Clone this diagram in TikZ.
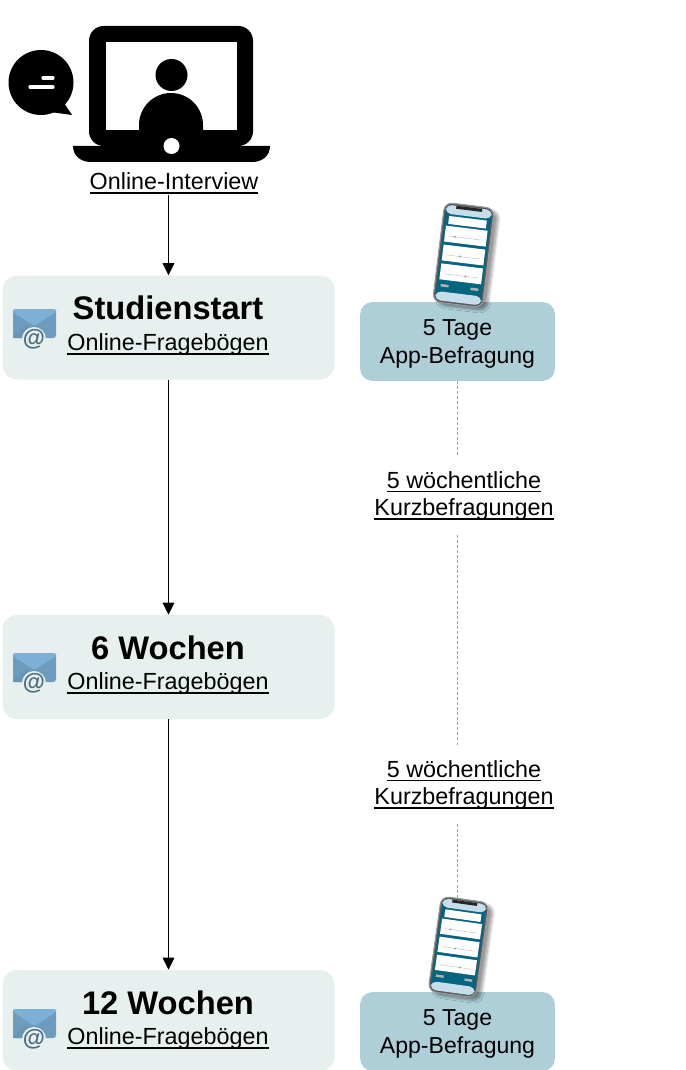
\documentclass[tikz,border=0pt]{standalone}
\usepackage{fontspec}
\setmainfont{Liberation Sans}
\usetikzlibrary{arrows.meta,positioning,shadows.blur}

\newcommand{\ultext}[1]{\setbox0\hbox{#1}\dp0=0pt \vtop{\box0\kern2pt\hrule height 1.3pt}}
\newcommand{\appstrut}{\rule{0pt}{15.5pt}}

\definecolor{paleBox}{HTML}{E7F0EF}
\definecolor{appBox}{HTML}{AFCFD8}
\definecolor{mailTop}{HTML}{7DB0D6}
\definecolor{mailLow}{HTML}{6E9CBE}
\definecolor{mailAt}{HTML}{4A6A80}
\definecolor{phoneTeal}{HTML}{05647F}
\definecolor{phoneLight}{HTML}{C6DEE9}
\definecolor{dashLine}{HTML}{8FA3AE}

\tikzset{
    phasebox/.style={fill=paleBox, rounded corners=11pt, minimum width=249pt, minimum height=78pt, inner sep=0pt},
    appbox/.style={fill=appBox, rounded corners=9pt, minimum width=146pt, minimum height=59pt, inner sep=0pt, align=center, font=\fontsize{17.3}{20.6}\selectfont},
    titletext/.style={font=\fontsize{24.5}{28}\selectfont\bfseries, inner sep=0pt},
    subtext/.style={font=\fontsize{17.5}{20}\selectfont, inner sep=0pt},
    weeklabel/.style={align=center, font=\fontsize{17.5}{20.6}\selectfont, inner sep=0pt, minimum height=58.5pt},
    flow/.style={-{Triangle[length=9pt,width=8.8pt]}, line width=0.6pt},
    weekline/.style={dashLine, dashed, dash pattern=on 2.2pt off 1.6pt, line width=0.5pt}
}

% tilted phone: x, y, angle, size
\newcommand{\phoneicon}[4]{
    \begin{scope}[shift={(#1,#2)}, rotate=#3, scale=#4]
        \fill[black!60, rounded corners=6pt, blur shadow={shadow xshift=3.5pt, shadow yshift=-2.5pt, shadow blur steps=8, shadow opacity=40}] (-25,-50) rectangle (25,50);
        \draw[black!40, fill=black!65, line width=0.8pt, rounded corners=6pt] (-25,-50) rectangle (25,50);
        \fill[phoneTeal, rounded corners=4pt] (-23,-48) rectangle (23,48);
        \fill[phoneLight, rounded corners=4pt] (-23,-48) rectangle (23,-39);
        \fill[black!85] (-13,-48) rectangle (13,-45);
        \fill[white] (-19,-37) rectangle (19,-29);
        \foreach \ytop in {-27,-8,11} {
            \fill[white] (-21,\ytop) rectangle (21,\ytop+16);
            \draw[black!30, line width=0.25pt] (-17,\ytop+10) -- (17,\ytop+10);
            \fill[black!35] (\ytop*0.4,\ytop+10) circle (1.2);
        }
        \fill[black!30] (-19,31.5) rectangle (-11,34);
        \fill[black!30] (11,31.5) rectangle (19,34);
        \fill[phoneLight, rounded corners=4pt] (-23,39) rectangle (23,48);
    \end{scope}
}

% mail icon: x, y of the upper left corner
\newcommand{\mailicon}[2]{
    \begin{scope}[shift={(#1,#2)}]
        \fill[mailLow, rounded corners=2pt] (0,0) rectangle (43,29);
        \fill[mailTop, rounded corners=2pt] (0,0) -- (43,0) -- (43,3) -- (21.5,17) -- (0,3) -- cycle;
        \fill[mailTop!85!black] (0,29) -- (0,27) -- (13,15) -- (21,23) -- (14,29) -- cycle;
        \fill[paleBox] (21,30) circle (12);
        \node[text=mailAt, inner sep=0pt, font=\fontsize{17}{17}\selectfont\bfseries] (at#1#2) at (21,30) {@};
    \end{scope}
}

\begin{document}
\begin{tikzpicture}[x=0.75pt, y=-0.75pt]
    \useasboundingbox (0,0) rectangle (685,1070);

    % Speech bubble
    \fill[black] (41,82.5) circle (32.5);
    \fill[black] (62,100) -- (72,115) -- (50,112) -- cycle;
    \draw[white, line width=2.4pt, line cap=round] (30,87) -- (53,87);
    \draw[white, line width=2.4pt, line cap=round] (43,78) -- (53,78);

    % Laptop
    \fill[black, rounded corners=11pt] (89,26) rectangle (253,146);
    \fill[white] (106,42) rectangle (237,130);
    \fill[black] (171.5,75) circle (16);
    \fill[black] (139,130) -- (139,125) arc[start angle=180, end angle=360, x radius=32, y radius=32] -- (203,130) -- cycle;
    \fill[black] (73,146) -- (270,146) .. controls (270,156) and (262,162) .. (252,162) -- (91,162) .. controls (81,162) and (73,156) .. (73,146) -- cycle;
    \fill[white] (171.5,146) circle (8);

    % Phases
    \node[subtext] (interview) at (174,183) {\ultext{Online-Interview}};
    \node[phasebox] (start) at (168.5,327.5) {};
    \node[phasebox] (mid) at (168.5,667) {};
    \node[phasebox, minimum height=75.75pt] (end) at (168.5,1020.5) {};

    \node[titletext] (startTitle) at (168,308) {Studienstart};
    \node[subtext] (startSub) at (168,344) {\ultext{Online-Fragebögen}};
    \node[titletext] (midTitle) at (168,648) {6 Wochen};
    \node[subtext] (midSub) at (168,683) {\ultext{Online-Fragebögen}};
    \node[titletext] (endTitle) at (168,1003) {12 Wochen};
    \node[subtext] (endSub) at (168,1038) {\ultext{Online-Fragebögen}};

    \mailicon{13}{309}
    \mailicon{13}{653}
    \mailicon{13}{1009}

    % Arrows
    \draw[flow] (interview.south -| start.north) ++(0,1) -- (start.north);
    \draw[flow] (start.south) -- (mid.north);
    \draw[flow] (mid.south) -- (end.north);

    % App boxes and weekly labels
    \node[appbox] (appFirst) at (457.5,341.5) {\appstrut 5 Tage\\App-Befragung};
    \node[appbox] (appLast) at (457.5,1031.5) {\appstrut 5 Tage\\App-Befragung};
    \node[weeklabel] (weekOne) at (464,495.5) {\ultext{5 wöchentliche}\\\ultext{Kurzbefragungen}};
    \node[weeklabel] (weekTwo) at (464,784.5) {\ultext{5 wöchentliche}\\\ultext{Kurzbefragungen}};

    \draw[weekline] (appFirst.south) -- (appFirst.south |- weekOne.north);
    \draw[weekline] (appFirst.south |- weekOne.south) -- (appFirst.south |- weekTwo.north);
    \draw[weekline] (appFirst.south |- weekTwo.south) -- (appLast.north);

    % Phones
    \phoneicon{463.5}{255}{-7}{1}
    \phoneicon{458.5}{947}{-8}{0.96}

\end{tikzpicture}
\end{document}
